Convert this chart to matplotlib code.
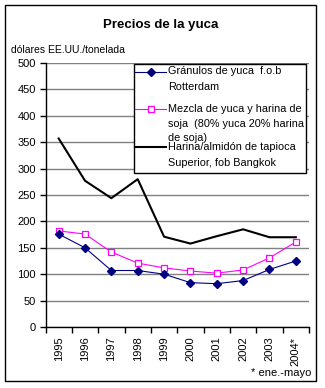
import matplotlib
matplotlib.use("Agg")
import matplotlib.pyplot as plt
from matplotlib.lines import Line2D
from matplotlib.patches import Rectangle
import numpy as np

years = ["1995", "1996", "1997", "1998", "1999", "2000", "2001", "2002", "2003", "2004*"]
granulos = [176, 150, 107, 107, 100, 84, 82, 88, 109, 125]
mezcla = [182, 176, 142, 121, 112, 106, 102, 108, 131, 161]
harina = [357, 277, 244, 280, 171, 158, 172, 185, 170, 170]
labels = [["Gránulos de yuca  f.o.b", "Rotterdam"],
          ["Mezcla de yuca y harina de", "soja  (80% yuca 20% harina", "de soja)"],
          ["Harina/almidón de tapioca", "Superior, fob Bangkok"]]

plt.rcParams['font.family'] = ['Liberation Sans', 'DejaVu Sans']
W, H = 325, 388
fig = plt.figure(figsize=(W/100, H/100), dpi=100)

def fx(px):
    return px / W
def fy(py):
    return 1 - py / H

# outer border
fig.patches.append(Rectangle((fx(5), fy(381)), fx(316) - fx(5), fy(5) - fy(381),
                             transform=fig.transFigure, fill=False, edgecolor='black', lw=1.0))

ax = fig.add_axes([fx(45.5), fy(327), fx(309) - fx(45.5), fy(63) - fy(327)])
x = np.arange(len(years))
ax.set_xlim(-0.5, len(years) - 0.5)
ax.set_ylim(0, 500)
ax.set_yticks(np.arange(0, 501, 50))
ax.yaxis.grid(True, color='#808080', lw=1.0)
ax.set_axisbelow(True)
for s in ['top', 'right']:
    ax.spines[s].set_visible(False)
for s in ['left', 'bottom']:
    ax.spines[s].set_linewidth(1.0)
ax.tick_params(axis='y', direction='out', length=4, width=1, labelsize=8, pad=3)
ax.set_xticks(np.arange(-0.5, len(years)), minor=False)
ax.set_xticklabels([])
ax.set_xticks(x, minor=True)
ax.set_xticklabels(years, minor=True, rotation=90, fontsize=8)
ax.tick_params(axis='x', which='major', direction='out', length=4, width=1)
ax.tick_params(axis='x', which='minor', length=0, pad=7)

ax.plot(x, harina, color='black', lw=1.5)
ax.plot(x, mezcla, color='#FF00FF', lw=0.8, marker='s', ms=5,
        mfc='white', mec='#FF00FF', mew=0.9)
ax.plot(x, granulos, color='#000080', lw=0.8, marker='D', ms=4,
        mfc='#000080', mec='#000080')

# title and axis label
fig.text(fx(161), fy(25), "Precios de la yuca", ha='center', va='center',
         fontsize=9.5, fontweight='bold')
fig.text(fx(11), fy(50), "dólares EE.UU./tonelada", ha='left', va='center', fontsize=7.5)
fig.text(fx(311), fy(373), "* ene.-mayo", ha='right', va='center', fontsize=8)

# legend box
fig.patches.append(Rectangle((fx(134), fy(173)), fx(306) - fx(134), fy(64) - fy(173),
                             transform=fig.transFigure, fill=True, facecolor='white',
                             edgecolor='black', lw=1.0, zorder=5))
handle_y = [71.5, 108.5, 147]
line_ys = [[71.5, 87], [108.5, 124, 137.5], [147, 162.5]]
styles = [dict(color='#000080', lw=0.8, marker='D', ms=4, mfc='#000080', mec='#000080'),
          dict(color='#FF00FF', lw=0.8, marker='s', ms=5, mfc='white', mec='#FF00FF', mew=0.9),
          dict(color='black', lw=1.5)]
for hy, st, lab, lys in zip(handle_y, styles, labels, line_ys):
    fig.lines.append(Line2D([fx(135), fx(166)], [fy(hy), fy(hy)], transform=fig.transFigure,
                            zorder=6, color=st['color'], lw=st['lw']))
    if 'marker' in st:
        fig.lines.append(Line2D([fx(150.5)], [fy(hy)], transform=fig.transFigure, zorder=7,
                                linestyle='none',
                                **{k: v for k, v in st.items() if k != 'lw'}))
    for t, ly in zip(lab, lys):
        fig.text(fx(168), fy(ly), t, ha='left', va='center', fontsize=7.8, zorder=8)

fig.savefig("out.png", dpi=100)
